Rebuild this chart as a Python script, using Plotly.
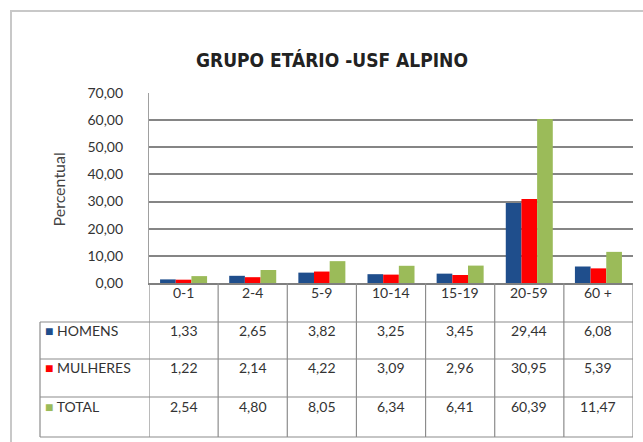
import plotly.graph_objects as go

# Age groups and percentages per group
categories = ["0-1", "2-4", "5-9", "10-14", "15-19", "20-59", "60 +"]
homens = [1.33, 2.65, 3.82, 3.25, 3.45, 29.44, 6.08]
mulheres = [1.22, 2.14, 4.22, 3.09, 2.96, 30.95, 5.39]
total = [2.54, 4.80, 8.05, 6.34, 6.41, 60.39, 11.47]

series_names = ["HOMENS", "MULHERES", "TOTAL"]
series_values = [homens, mulheres, total]
series_colors = ["#1F4E8C", "#FF0000", "#9BBB59"]

y_ticks = [0, 10, 20, 30, 40, 50, 60, 70]

W, H = 643, 442
L, R, T, B = 149, 10, 93, 159
PW, PH = W - L - R, H - T - B


def px_x(px):
    return (px - L) / PW


def px_y(py):
    return (H - B - py) / PH


def fmt(v):
    return f"{v:.2f}".replace(".", ",")


BODY_FONT = "Lato, Open Sans, sans-serif"
TEXT_COLOR = "#333333"
LINE_COLOR = "#8c8c8c"

fig = go.Figure()
for name, vals, color in zip(series_names, series_values, series_colors):
    fig.add_bar(x=categories, y=vals, name=name, marker_color=color,
                marker_line_width=0)

shapes = []
annotations = []

# outer chart frame (only top and left edges fall inside the page)
shapes.append(dict(type="rect", xref="paper", yref="paper",
                   x0=px_x(11), x1=px_x(700), y0=px_y(11), y1=px_y(500),
                   line=dict(color="#c8c8c8", width=2), fillcolor="rgba(0,0,0,0)"))

# data table grid
row_edges = [283, 322, 359, 397, 437]
table_left = 40
for py in row_edges[1:]:
    shapes.append(dict(type="line", xref="paper", yref="paper",
                       x0=px_x(table_left), x1=1, y0=px_y(py), y1=px_y(py),
                       line=dict(color=LINE_COLOR, width=1.2)))
shapes.append(dict(type="line", xref="paper", yref="paper",
                   x0=px_x(table_left), x1=px_x(table_left),
                   y0=px_y(row_edges[1]), y1=px_y(row_edges[-1]),
                   line=dict(color=LINE_COLOR, width=1.2)))
for i in range(len(categories) + 1):
    shapes.append(dict(type="line", xref="x", yref="paper",
                       x0=i - 0.5, x1=i - 0.5,
                       y0=px_y(row_edges[0]), y1=px_y(row_edges[-1]),
                       line=dict(color=LINE_COLOR, width=1.2)))

# header row: category labels
hdr_y = px_y((row_edges[0] + row_edges[1]) / 2)
for c in categories:
    annotations.append(dict(x=c, y=hdr_y, xref="x", yref="paper", text=c,
                            showarrow=False, font=dict(size=14, color=TEXT_COLOR,
                                                       family=BODY_FONT)))

# series rows: legend key + values
for r, (name, vals, color) in enumerate(zip(series_names, series_values, series_colors)):
    ry = px_y((row_edges[r + 1] + row_edges[r + 2]) / 2)
    annotations.append(dict(x=px_x(43), y=ry, xref="paper", yref="paper",
                            xanchor="left",
                            text=f"<span style='color:{color}'>■</span> {name}",
                            showarrow=False,
                            font=dict(size=14, color=TEXT_COLOR, family=BODY_FONT)))
    for c, v in zip(categories, vals):
        annotations.append(dict(x=c, y=ry, xref="x", yref="paper", text=fmt(v),
                                showarrow=False,
                                font=dict(size=14, color=TEXT_COLOR, family=BODY_FONT)))

# chart title
annotations.append(dict(x=px_x(332), y=px_y(47), xref="paper", yref="paper",
                        text="<b>GRUPO ETÁRIO -USF ALPINO</b>", showarrow=False,
                        font=dict(size=19, color="#222222",
                                  family="Liberation Sans Narrow, DejaVu Sans Condensed, Arial Narrow, sans-serif")))

# vertical axis title
annotations.append(dict(x=px_x(46), y=px_y(190), xref="paper", yref="paper",
                        text="Percentual", textangle=-90, showarrow=False,
                        font=dict(size=16, color="#444444", family=BODY_FONT)))

fig.update_layout(
    width=W, height=H,
    margin=dict(l=L, r=R, t=T, b=B, pad=0),
    paper_bgcolor="white", plot_bgcolor="white",
    showlegend=False,
    barmode="group", bargap=0.32, bargroupgap=0,
    separators=",.",
    shapes=shapes, annotations=annotations,
    xaxis=dict(range=[-0.5, len(categories) - 0.5], showticklabels=False,
               showgrid=False, zeroline=False, showline=True,
               linecolor="#7f7f7f", linewidth=1.5, ticks=""),
    yaxis=dict(range=[0, 70], tickvals=y_ticks, tickformat=".2f",
               showgrid=True, gridcolor="#858585", gridwidth=1.6,
               zeroline=False, showline=True, linecolor="#a0a0a0", linewidth=1.2,
               ticks="", ticklabelstandoff=22,
               tickfont=dict(size=14, color=TEXT_COLOR, family=BODY_FONT)),
)

fig.write_html("out.html")
